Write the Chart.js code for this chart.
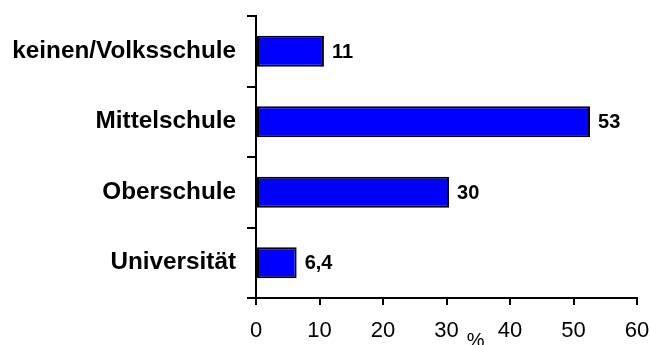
<!DOCTYPE html>
<html>
<head>
<meta charset="utf-8">
<script src="https://cdn.jsdelivr.net/npm/chart.js@4"></script>
<style>
  html, body { margin: 0; padding: 0; background: #fff; }
</style>
</head>
<body>
<canvas id="chart" width="650" height="345"></canvas>
<script>
const categories = ['keinen/Volksschule', 'Mittelschule', 'Oberschule', 'Universität'];
const shares = [10.7, 52.6, 30.4, 6.4];
const shareLabels = ['11', '53', '30', '6,4'];
const axisUnit = '%';

const FONT = "'Liberation Sans', Arial, sans-serif";

// Zahlen rechts neben den Balken
const valueLabels = {
    id: 'valueLabels',
    afterDatasetsDraw(chart) {
        const ctx = chart.ctx;
        const meta = chart.getDatasetMeta(0);
        ctx.save();
        ctx.font = 'bold 20px ' + FONT;
        ctx.fillStyle = '#000';
        ctx.textAlign = 'left';
        ctx.textBaseline = 'middle';
        meta.data.forEach(function (bar, i) {
            ctx.fillText(shareLabels[i], bar.x + 8, bar.y + 1);
        });
        ctx.restore();
    }
};

// "%" unter der x-Achse, zwischen 30 und 40
const unitLabel = {
    id: 'unitLabel',
    afterDraw(chart) {
        const ctx = chart.ctx;
        const x = chart.scales.x.getPixelForValue(34.6);
        ctx.save();
        ctx.font = '20px ' + FONT;
        ctx.fillStyle = '#000';
        ctx.textAlign = 'center';
        ctx.textBaseline = 'top';
        ctx.fillText(axisUnit, x, 331);
        ctx.restore();
    }
};

new Chart(document.getElementById('chart').getContext('2d'), {
    type: 'bar',
    data: {
        labels: categories,
        datasets: [{
            data: shares,
            backgroundColor: '#0000ff',
            borderColor: '#000',
            borderWidth: 2,
            borderSkipped: false,
            barPercentage: 0.44,
            categoryPercentage: 1
        }]
    },
    options: {
        indexAxis: 'y',
        responsive: false,
        animation: false,
        layout: { padding: { top: 16, right: 13, left: 0, bottom: 0 } },
        plugins: {
            legend: { display: false },
            tooltip: { enabled: false }
        },
        scales: {
            x: {
                min: 0,
                max: 60,
                afterFit(scale) {
                    scale.height = 47;
                    scale.paddingLeft = 0;
                    scale.paddingRight = 0;
                },
                ticks: {
                    stepSize: 10,
                    color: '#000',
                    padding: 13,
                    maxRotation: 0,
                    font: { family: FONT, size: 22 }
                },
                grid: {
                    drawOnChartArea: false,
                    tickLength: 7,
                    color: '#000',
                    lineWidth: 2
                },
                border: { color: '#000', width: 2 }
            },
            y: {
                afterFit(scale) {
                    scale.width = 256;
                    scale.paddingTop = 0;
                    scale.paddingBottom = 0;
                },
                ticks: {
                    color: '#000',
                    padding: 11,
                    font: { family: FONT, size: 24.3, weight: 'bold' }
                },
                grid: {
                    offset: true,
                    drawOnChartArea: false,
                    tickLength: 9,
                    color: '#000',
                    lineWidth: 2
                },
                border: { color: '#000', width: 2 }
            }
        }
    },
    plugins: [valueLabels, unitLabel]
});
</script>
</body>
</html>
